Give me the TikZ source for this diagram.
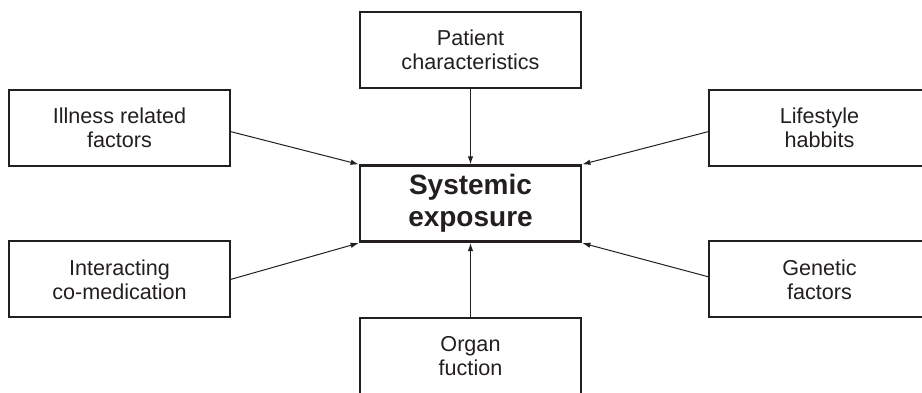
\documentclass[tikz,border=0pt]{standalone}
\usepackage{fontspec}
\setmainfont{Liberation Sans}
\usetikzlibrary{arrows.meta}
\definecolor{ink}{RGB}{35,31,32}
\begin{document}
\begin{tikzpicture}[x=1pt,y=-1pt,
  factor/.style={draw=ink,line width=2pt,minimum width=221pt,minimum height=76pt,inner sep=0pt,
    align=center,text=ink,font=\fontsize{21.6}{24}\selectfont},
  central/.style={draw=ink,line width=2.8pt,minimum width=221pt,minimum height=76pt,inner sep=0pt,
    align=center,text=ink,font=\fontsize{28}{32}\selectfont\bfseries},
  link/.style={draw=ink,line width=1pt,-{Latex[length=8pt,width=5.5pt]}}]
\useasboundingbox (0,0) rectangle (922,392);
\clip (0,0) rectangle (922,392);
\fill[white] (0,0) rectangle (922,392);
\node[factor]  (pat)   at (470.5,50)    {Patient\\characteristics};
\node[factor]  (ill)   at (119.5,127.7) {Illness related\\factors};
\node[factor]  (life)  at (819.5,127.7) {Lifestyle\\habbits};
\node[central] (sys)   at (470.5,203.7) {Systemic\\exposure};
\node[factor]  (inter) at (119.5,279.3) {Interacting\\co-medication};
\node[factor]  (gen)   at (819.5,279.3) {Genetic\\factors};
\node[factor]  (org)   at (470.5,356)   {Organ\\fuction};
\draw[link] (pat.south) -- (sys.north);
\draw[link] (org.north) -- (sys.south);
\draw[link] ([yshift=-4pt]ill.east) -- (sys.north west);
\draw[link] ([yshift=-4pt]life.west) -- (sys.north east);
\draw[link] (inter.east) -- (sys.south west);
\draw[link] ([yshift=2.6pt]gen.west) -- (sys.south east);
\end{tikzpicture}
\end{document}
